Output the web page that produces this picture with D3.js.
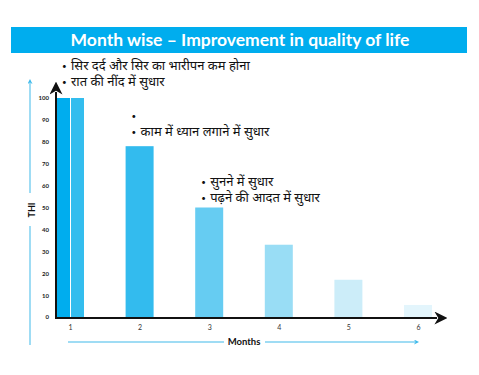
<!DOCTYPE html>
<html>
<head>
<meta charset="utf-8">
<script src="https://cdn.jsdelivr.net/npm/d3@7"></script>
<style>
  body { margin: 0; background: #fff; }
  text { font-family: Lato, "Open Sans", sans-serif; }
</style>
</head>
<body>
<script>
// chart data
var months = ["1", "2", "3", "4", "5", "6"];
var thiValues = [100, 78, 50, 33, 17, 5.5];
var barColors = ["#33bdee", "#33bbee", "#66ccf2", "#99ddf5", "#ccedf9", "#e3f5fc"];
var yTicks = [0, 10, 20, 30, 40, 50, 60, 70, 80, 90, 100];
var notes = [
  { month: "1", value: 112.8, lines: ["सिर दर्द और सिर का भारीपन कम होना", "रात की नींद में सुधार"] },
  { month: "2", value: 90, lines: ["", "काम में ध्यान लगाने में सुधार"] },
  { month: "3", value: 59.8, lines: ["सुनने में सुधार", "पढ़ने की आदत में सुधार"] }
];

var W = 479, H = 375;
var svg = d3.select("body").append("svg")
    .attr("width", W)
    .attr("height", H);

// arrow markers
var defs = svg.append("defs");
function marker(id, color, size) {
  defs.append("marker")
      .attr("id", id)
      .attr("viewBox", "0 0 10 10")
      .attr("refX", 2).attr("refY", 5)
      .attr("markerWidth", size).attr("markerHeight", size)
      .attr("markerUnits", "userSpaceOnUse")
      .attr("orient", "auto")
    .append("path")
      .attr("d", "M0,0 L10,5 L0,10 L3,5 Z")
      .attr("fill", color);
}
marker("blackArrow", "#111", 13);
marker("blueArrow", "#39b8ea", 5);

// title banner
svg.append("rect")
    .attr("x", 11).attr("y", 27)
    .attr("width", 456).attr("height", 26)
    .attr("fill", "#00adee");
svg.append("text")
    .attr("x", 240).attr("y", 46)
    .attr("text-anchor", "middle")
    .attr("fill", "#fff")
    .style("font-size", "17.5px")
    .style("font-weight", "bold")
    .text("Month wise – Improvement in quality of life");

// scales
var x = d3.scalePoint().domain(months).range([70, 418]);
var barW = 28;
var y = d3.scaleLinear().domain([0, 100]).range([317, 98]);

// bars
svg.selectAll(".bar")
    .data(thiValues)
    .enter().append("rect")
    .attr("class", "bar")
    .attr("x", function(d, i) { return x(months[i]) - barW / 2; })
    .attr("y", function(d) { return y(d); })
    .attr("width", barW)
    .attr("height", function(d) { return y(0) - y(d); })
    .attr("fill", function(d, i) { return barColors[i]; });

// darker left half of first bar
svg.append("rect")
    .attr("x", x(months[0]) - barW / 2)
    .attr("y", y(thiValues[0]))
    .attr("width", barW / 2)
    .attr("height", y(0) - y(thiValues[0]))
    .attr("fill", "#00adee");
svg.append("line")
    .attr("x1", x(months[0]) + 0.5).attr("x2", x(months[0]) + 0.5)
    .attr("y1", y(thiValues[0])).attr("y2", y(0))
    .attr("stroke", "#fff").attr("stroke-width", 1);

// y axis ticks
var yAxis = svg.append("g")
    .attr("transform", "translate(49,0)")
    .call(d3.axisLeft(y).tickValues(yTicks).tickSize(0).tickPadding(0));
yAxis.select(".domain").remove();
yAxis.selectAll("text")
    .attr("fill", "#222")
    .style("font-size", "6px")
    .style("font-weight", "bold")
    .attr("font-family", "Lato, sans-serif");

// x axis tick labels
var xAxis = svg.append("g")
    .attr("transform", "translate(0,325)")
    .call(d3.axisBottom(x).tickSize(0).tickPadding(0));
xAxis.select(".domain").remove();
xAxis.selectAll("text")
    .attr("fill", "#333")
    .style("font-size", "7px")
    .attr("font-family", "Lato, sans-serif");

// black axis lines with arrows
svg.append("line")
    .attr("x1", 56).attr("y1", y(0) + 1)
    .attr("x2", 437).attr("y2", y(0) + 1)
    .attr("stroke", "#111").attr("stroke-width", 2)
    .attr("marker-end", "url(#blackArrow)");
svg.append("line")
    .attr("x1", 56).attr("y1", y(0) + 2)
    .attr("x2", 56).attr("y2", 92)
    .attr("stroke", "#111").attr("stroke-width", 2)
    .attr("marker-end", "url(#blackArrow)");

// side labels with light blue guide lines
svg.append("line")
    .attr("x1", 30).attr("y1", 345).attr("x2", 30).attr("y2", 226)
    .attr("stroke", "#7fd0f0").attr("stroke-width", 1.5);
svg.append("line")
    .attr("x1", 30).attr("y1", 193).attr("x2", 30).attr("y2", 83)
    .attr("stroke", "#7fd0f0").attr("stroke-width", 1.5)
    .attr("marker-end", "url(#blueArrow)");
svg.append("text")
    .attr("transform", "translate(35,210) rotate(-90)")
    .attr("text-anchor", "middle")
    .attr("fill", "#111")
    .style("font-size", "9px")
    .style("font-weight", "bold")
    .text("THI");

svg.append("line")
    .attr("x1", 68).attr("y1", 342).attr("x2", 224).attr("y2", 342)
    .attr("stroke", "#7fd0f0").attr("stroke-width", 1.5);
svg.append("line")
    .attr("x1", 265).attr("y1", 342).attr("x2", 415).attr("y2", 342)
    .attr("stroke", "#7fd0f0").attr("stroke-width", 1.5)
    .attr("marker-end", "url(#blueArrow)");
svg.append("text")
    .attr("x", 244).attr("y", 345)
    .attr("text-anchor", "middle")
    .attr("fill", "#111")
    .style("font-size", "9.5px")
    .style("font-weight", "bold")
    .text("Months");

// hindi annotations
notes.forEach(function(n) {
  var g = svg.append("g")
      .attr("transform", "translate(" + (x(n.month) - 8) + "," + y(n.value) + ")");
  n.lines.forEach(function(line, i) {
    g.append("text")
        .attr("x", 0).attr("y", i * 16 - 1)
        .attr("fill", "#111")
        .style("font-size", "8px")
        .text("•");
    g.append("text")
        .attr("x", 9).attr("y", i * 16)
        .attr("fill", "#111")
        .style("font-size", "13px")
        .style("font-family", "'Noto Sans Devanagari', 'Noto Sans', sans-serif")
        .text(line);
  });
});
</script>
</body>
</html>
